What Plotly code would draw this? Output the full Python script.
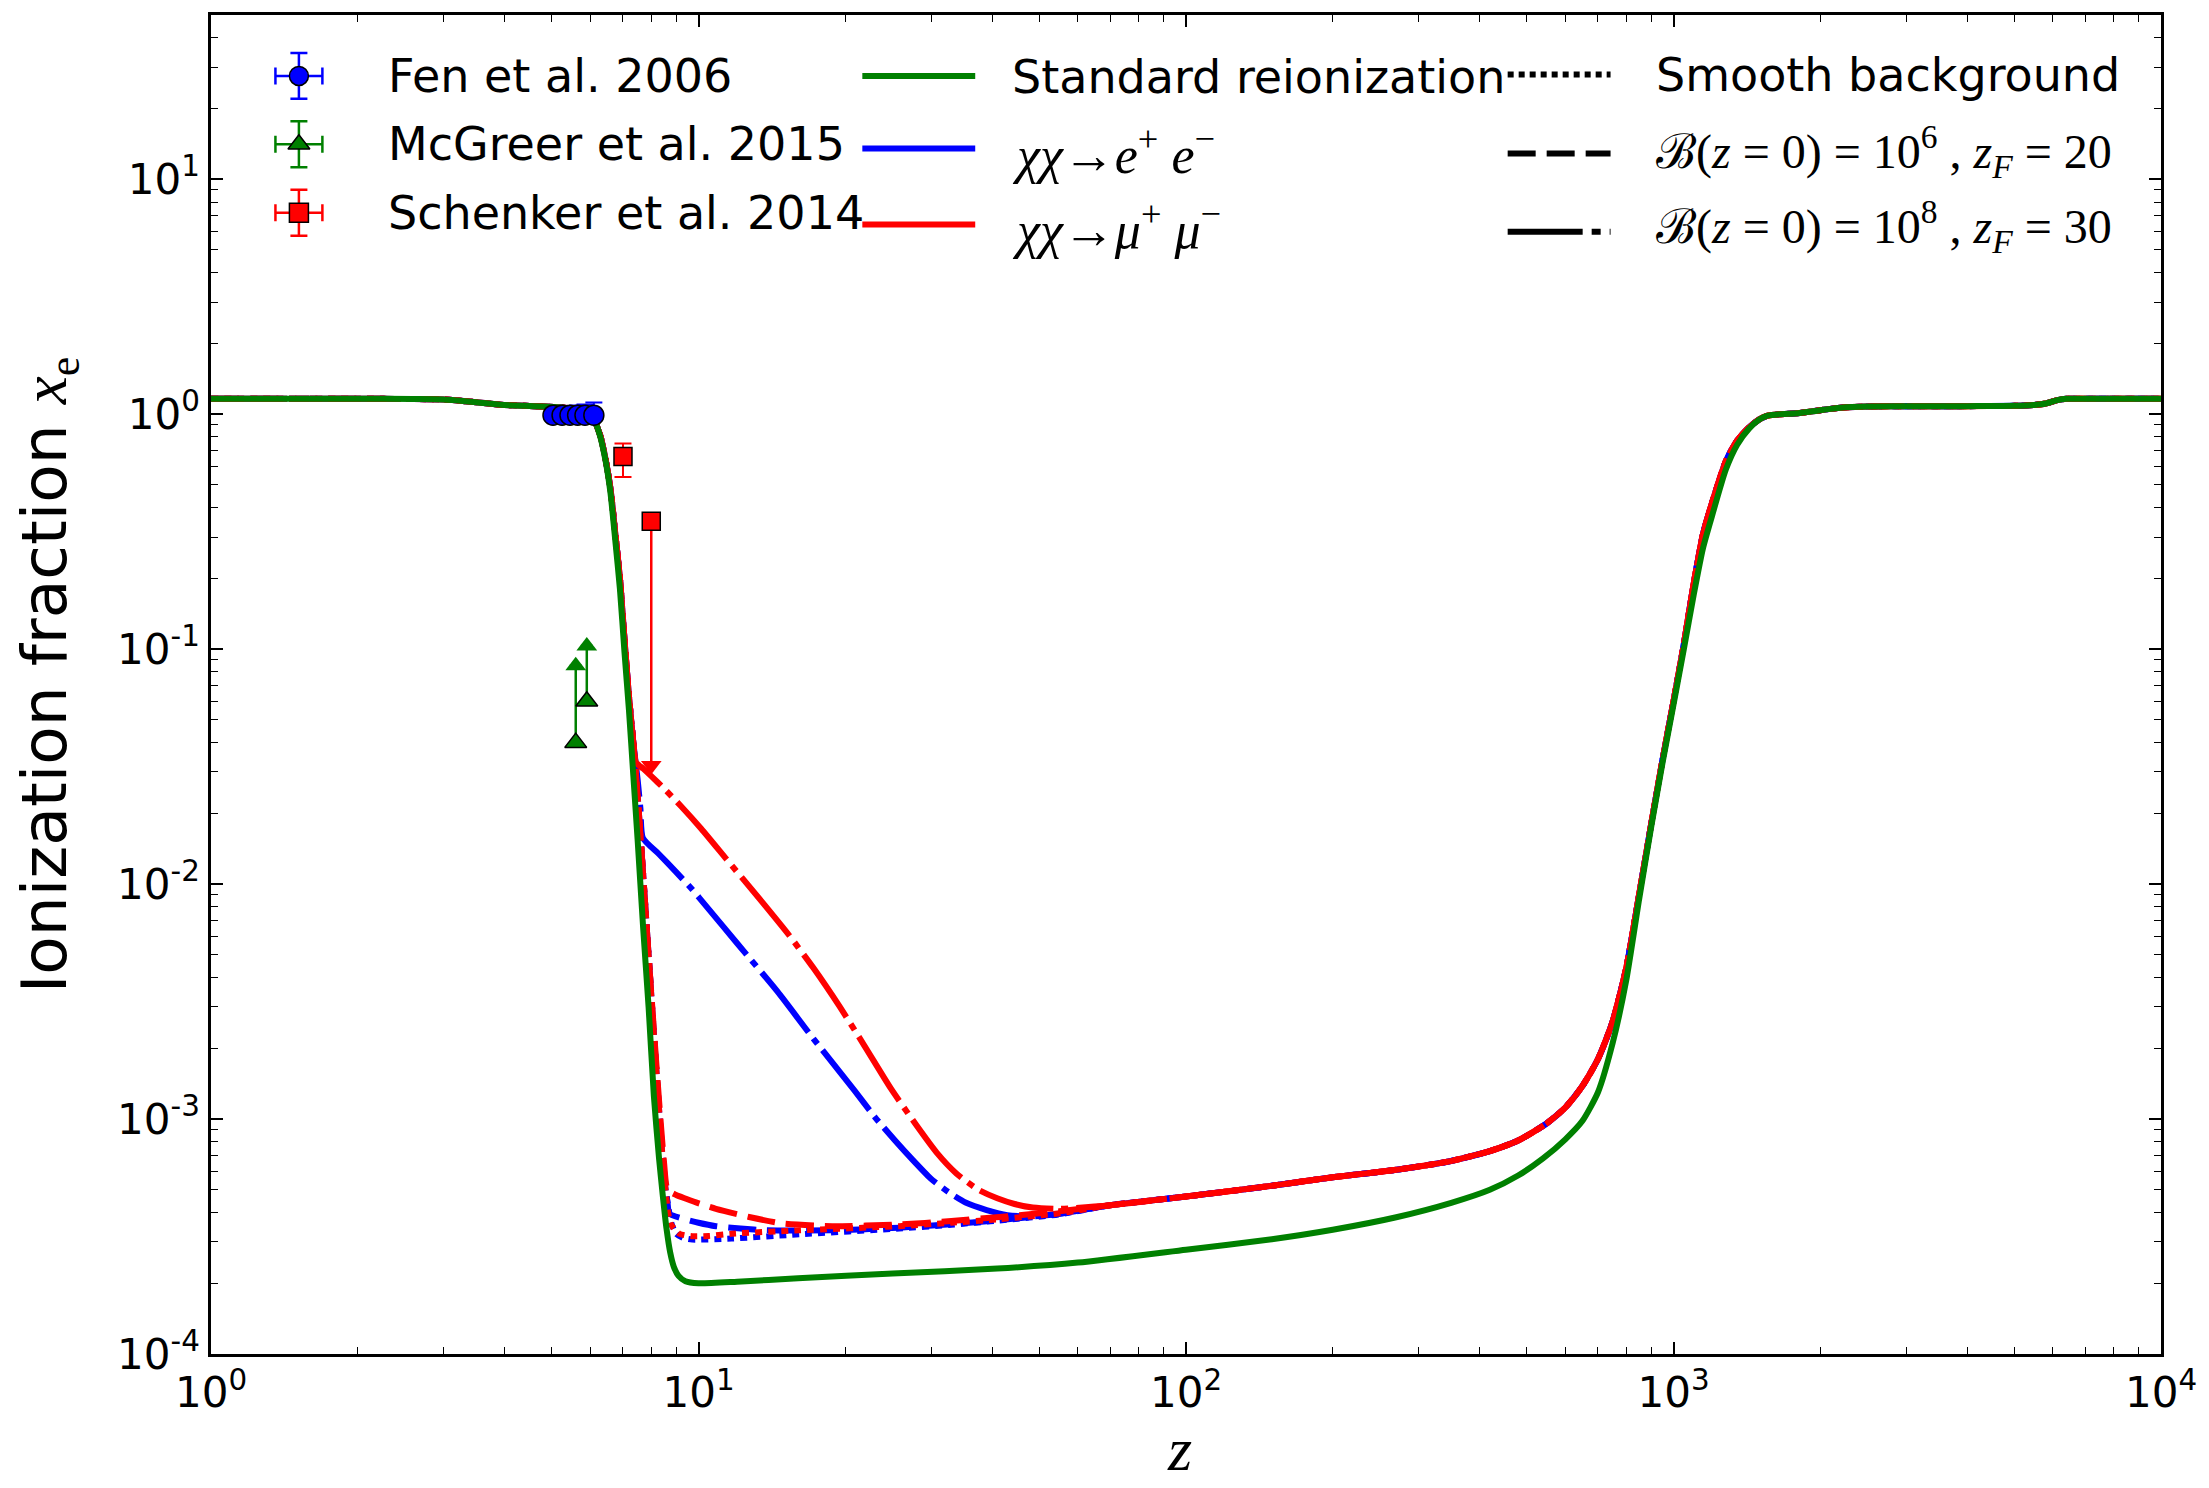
import math
import plotly.graph_objects as go

# ---------------- standard reionization history ----------------
z_std = [1.0, 2.0, 2.6, 3.0, 3.5, 3.93, 4.4, 4.81, 5.3, 5.7,
         5.95, 6.1, 6.2, 6.3, 6.45, 6.6, 6.75, 6.9, 7.05, 7.2,
         7.35, 7.5, 7.7, 7.9, 8.1, 8.3, 8.45, 8.6, 8.75, 8.9,
         9.1, 9.4, 10.0, 12.0, 16.0, 25.0, 41.0, 60.0, 100.0, 150.0,
         200.0, 270.0, 350.0, 420.0, 480.0, 540.0, 600.0, 650.0, 700.0, 750.0,
         800.0, 850.0, 900.0, 950.0, 1000.0, 1050.0, 1100.0, 1150.0, 1200.0, 1280.0,
         1350.0, 1430.0, 1500.0, 1560.0, 1650.0, 1800.0, 2000.0, 2200.0, 2500.0, 3000.0,
         4000.0, 5000.0, 5500.0, 5800.0, 6100.0, 6400.0, 7000.0, 10000.0]
xe_std = [1.163, 1.163, 1.16, 1.155, 1.125, 1.097, 1.085, 1.078, 1.065, 1.052,
          1.03, 0.96, 0.88, 0.79, 0.63, 0.46, 0.29, 0.18, 0.097, 0.055,
          0.029, 0.0155, 6.5e-3, 3.0e-3, 1.25e-3, 6.8e-4, 4.7e-4, 3.4e-4, 2.7e-4, 2.35e-4,
          2.15e-4, 2.04e-4, 2.0e-4, 2.03e-4, 2.1e-4, 2.2e-4, 2.31e-4, 2.45e-4, 2.78e-4, 3.08e-4,
          3.38e-4, 3.82e-4, 4.4e-4, 5.0e-4, 5.75e-4, 6.8e-4, 8.2e-4, 9.8e-4, 1.3e-3, 2.1e-3,
          3.9e-3, 8.6e-3, 0.0175, 0.033, 0.058, 0.10, 0.17, 0.27, 0.37, 0.58,
          0.74, 0.87, 0.95, 0.985, 1.0, 1.01, 1.04, 1.065, 1.078, 1.08,
          1.082, 1.085, 1.095, 1.11, 1.145, 1.163, 1.163, 1.163]

# ---------------- dark-matter annihilation histories ----------------
# common low-z reionization drop
z_dm_drop = [1.0, 2.0, 2.6, 3.0, 3.5, 3.93, 4.4, 4.81, 5.3, 5.7,
             5.95, 6.1, 6.2, 6.3, 6.45, 6.6, 6.75, 6.9, 7.05, 7.2, 7.35]
xe_dm_drop = [1.163, 1.163, 1.16, 1.155, 1.125, 1.097, 1.085, 1.078, 1.065, 1.052,
              1.03, 0.96, 0.88, 0.80, 0.64, 0.48, 0.31, 0.20, 0.11, 0.063, 0.040]

# common high-z part (all annihilation models converge here)
z_dm_high = [70, 100, 150, 200, 273, 346, 420, 480, 550, 600,
             650, 700, 750, 800, 850, 900, 950, 1000, 1050, 1100,
             1150, 1200, 1280, 1350, 1430, 1500, 1560, 1650, 1800, 2000,
             2200, 2500, 3000, 4000, 5000, 5500, 5800, 6100, 6400, 7000, 10000]
xe_dm_high = [4.3e-4, 4.68e-4, 5.2e-4, 5.65e-4, 6.1e-4, 6.6e-4, 7.3e-4, 8.1e-4, 9.6e-4, 1.12e-3,
              1.38e-3, 1.8e-3, 2.6e-3, 4.4e-3, 9.0e-3, 0.018, 0.034, 0.06, 0.105, 0.19,
              0.31, 0.42, 0.63, 0.77, 0.88, 0.95, 0.985, 1.0, 1.01, 1.04,
              1.065, 1.078, 1.08, 1.082, 1.085, 1.095, 1.11, 1.145, 1.163, 1.163, 1.163]

# chi chi -> e+ e-
z_ee_smooth = [7.5, 7.7, 7.9, 8.1, 8.3, 8.5, 8.8, 9.0, 9.3, 9.71, 11.7, 16.1, 25.8, 33, 41.4, 55]
xe_ee_smooth = [0.024, 0.011, 5.0e-3, 2.3e-3, 1.1e-3, 5.6e-4, 3.6e-4, 3.25e-4, 3.12e-4, 3.07e-4,
                3.1e-4, 3.23e-4, 3.42e-4, 3.55e-4, 3.7e-4, 3.93e-4]
z_ee_b6 = [7.5, 7.7, 7.9, 8.1, 8.3, 8.5, 8.65, 8.71, 9.28, 10.0, 10.86, 12.2, 13.75, 18.8, 25.8, 33, 41.4, 55]
xe_ee_b6 = [0.024, 0.011, 5.0e-3, 2.3e-3, 1.1e-3, 6.0e-4, 4.3e-4, 3.96e-4, 3.77e-4, 3.62e-4,
            3.5e-4, 3.42e-4, 3.36e-4, 3.36e-4, 3.45e-4, 3.57e-4, 3.71e-4, 3.95e-4]
z_ee_b8 = [7.5, 7.6, 7.69, 8.3, 8.98, 9.7, 10.4, 12.0, 14.5, 17.2, 20.9, 23.0, 25.3, 27.5,
           29.9, 32.5, 35.4, 39.0, 43.0, 48.0, 55.0]
xe_ee_b8 = [0.028, 0.021, 0.0157, 0.0134, 0.0113, 9.5e-3, 8.0e-3, 5.6e-3, 3.5e-3, 2.2e-3,
            1.32e-3, 1.02e-3, 8.1e-4, 6.7e-4, 5.6e-4, 4.9e-4, 4.4e-4, 4.1e-4, 3.9e-4, 3.85e-4, 3.95e-4]

# chi chi -> mu+ mu-
z_mm_smooth = [7.5, 7.7, 7.9, 8.1, 8.3, 8.5, 8.76, 9.14, 9.71, 10.5, 11.7, 16.1, 25.8, 33, 41.4, 55]
xe_mm_smooth = [0.024, 0.011, 5.0e-3, 2.3e-3, 1.1e-3, 5.8e-4, 3.59e-4, 3.25e-4, 3.17e-4, 3.18e-4,
                3.25e-4, 3.36e-4, 3.5e-4, 3.62e-4, 3.75e-4, 3.97e-4]
z_mm_b6 = [7.5, 7.7, 7.9, 8.1, 8.3, 8.5, 8.64, 9.0, 9.43, 10.1, 10.86, 12.7, 14.9, 18.8, 25.8, 33, 41.4, 55]
xe_mm_b6 = [0.024, 0.011, 5.0e-3, 2.4e-3, 1.2e-3, 6.5e-4, 5.0e-4, 4.75e-4, 4.58e-4, 4.35e-4,
            4.15e-4, 3.83e-4, 3.59e-4, 3.5e-4, 3.56e-4, 3.68e-4, 3.83e-4, 4.05e-4]
z_mm_b8 = [7.44, 7.7, 8.0, 8.5, 9.2, 10.13, 11.4, 13.5, 15.3, 17.2, 19.5, 21.9, 24.8, 27.9,
           30.8, 33.8, 37.5, 41.0, 44.5, 48.5, 55.0]
xe_mm_b8 = [0.033, 0.031, 0.0288, 0.0255, 0.0215, 0.0172, 0.0128, 8.4e-3, 6.1e-3, 4.4e-3,
            3.0e-3, 2.05e-3, 1.35e-3, 9.5e-4, 7.2e-4, 5.87e-4, 5.0e-4, 4.6e-4, 4.35e-4, 4.2e-4, 4.15e-4]

# ---------------- observational constraints ----------------
fan_z = [5.03, 5.25, 5.45, 5.65, 5.85, 6.10]
fan_xe = [0.99, 0.99, 0.99, 0.99, 0.99, 0.99]
fan_err_up = [0.03, 0.04, 0.05, 0.10, 0.11, 0.13]
fan_err_dn = [0.02, 0.02, 0.02, 0.03, 0.03, 0.03]
fan_zerr = [0.1, 0.1, 0.1, 0.1, 0.1, 0.1]

mcgreer_z = [5.6, 5.9]
mcgreer_xe = [0.04, 0.06]          # lower limits
mcgreer_err = [0.045, 0.043]

schenker_z = [7.0]
schenker_xe = [0.66]
schenker_err_up = [0.09]
schenker_err_dn = [0.12]
schenker_lim_z = [8.0]
schenker_lim_xe = [0.35]            # upper limit
schenker_lim_err = [0.318]

x_tickvals = [1, 10, 100, 1000, 10000]
x_ticktext = ["10<sup>0</sup>", "10<sup>1</sup>", "10<sup>2</sup>", "10<sup>3</sup>", "10<sup>4</sup>"]
y_tickvals = [1e-4, 1e-3, 1e-2, 1e-1, 1, 10]
y_ticktext = ["10<sup>-4</sup>", "10<sup>-3</sup>", "10<sup>-2</sup>", "10<sup>-1</sup>",
              "10<sup>0</sup>", "10<sup>1</sup>"]

BLUE, GREEN, RED = "#0000ff", "#008000", "#ff0000"
DOT = "7px,6px"
DASH = "28px,11px"
DASHDOT = "76px,8px,7px,8px"
LW = 6

fig = go.Figure()


def curve(z, xe, color, dash):
    fig.add_trace(go.Scatter(x=z, y=xe, mode="lines",
                             line=dict(color=color, width=LW, dash=dash,
                                       shape="spline", smoothing=0.6),
                             hoverinfo="skip"))


for col, tails in [(BLUE, [(z_ee_smooth, xe_ee_smooth, DOT), (z_ee_b6, xe_ee_b6, DASH),
                           (z_ee_b8, xe_ee_b8, DASHDOT)]),
                   (RED, [(z_mm_smooth, xe_mm_smooth, DOT), (z_mm_b6, xe_mm_b6, DASH),
                          (z_mm_b8, xe_mm_b8, DASHDOT)])]:
    for zt, xt, dsh in tails:
        curve(z_dm_drop + zt + z_dm_high, xe_dm_drop + xt + xe_dm_high, col, dsh)

curve(z_std, xe_std, GREEN, "solid")

# Fan et al. quasar points
fig.add_trace(go.Scatter(
    x=fan_z, y=fan_xe, mode="markers",
    marker=dict(symbol="circle", size=20, color=BLUE, line=dict(color="black", width=1.5)),
    error_y=dict(type="data", symmetric=False, array=fan_err_up, arrayminus=fan_err_dn,
                 color=BLUE, thickness=2, width=8.5),
    error_x=dict(type="data", array=fan_zerr, color=BLUE, thickness=2, width=8.5)))

# McGreer lower limits: shaft + arrow head
fig.add_trace(go.Scatter(
    x=mcgreer_z, y=mcgreer_xe, mode="markers",
    marker=dict(symbol="triangle-up", size=19, color=GREEN, line=dict(color="black", width=1.5)),
    error_y=dict(type="data", symmetric=False, array=mcgreer_err, arrayminus=[0, 0],
                 color=GREEN, thickness=2.5, width=6)))
fig.add_trace(go.Scatter(
    x=mcgreer_z, y=[v + e for v, e in zip(mcgreer_xe, mcgreer_err)], mode="markers",
    marker=dict(symbol="triangle-up", size=18, color=GREEN, line=dict(width=0))))

# Schenker measurement and upper limit
fig.add_trace(go.Scatter(
    x=schenker_z, y=schenker_xe, mode="markers",
    marker=dict(symbol="square", size=18, color=RED, line=dict(color="black", width=1.5)),
    error_y=dict(type="data", symmetric=False, array=schenker_err_up, arrayminus=schenker_err_dn,
                 color=RED, thickness=2, width=8.5)))
fig.add_trace(go.Scatter(
    x=schenker_lim_z, y=schenker_lim_xe, mode="markers",
    marker=dict(symbol="square", size=18, color=RED, line=dict(color="black", width=1.5)),
    error_y=dict(type="data", symmetric=False, array=[0], arrayminus=schenker_lim_err,
                 color=RED, thickness=2.5, width=0)))
fig.add_trace(go.Scatter(
    x=schenker_lim_z, y=[v - e for v, e in zip(schenker_lim_xe, schenker_lim_err)], mode="markers",
    marker=dict(symbol="triangle-down", size=18, color=RED, line=dict(width=0))))

# ---------------- legend (drawn on a pixel-space overlay) ----------------
def key_marker(y, symbol, color):
    fig.add_trace(go.Scatter(
        x=[299], y=[y], xaxis="x2", yaxis="y2", mode="markers", cliponaxis=False,
        marker=dict(symbol=symbol, size=19, color=color, line=dict(color="black", width=1.5)),
        error_x=dict(type="data", array=[23.5], color=color, thickness=2.5, width=8.5),
        error_y=dict(type="data", array=[23], color=color, thickness=2.5, width=8.5)))


def key_line(x0, x1, y, color, dash):
    fig.add_trace(go.Scatter(
        x=[x0, x1], y=[y, y], xaxis="x2", yaxis="y2", mode="lines", cliponaxis=False,
        line=dict(color=color, width=6, dash=dash)))


key_marker(74, "circle", BLUE)
key_marker(142.5, "triangle-up", GREEN)
key_marker(211, "square", RED)
key_line(863, 976, 74, GREEN, "solid")
key_line(863, 976, 146.7, BLUE, "solid")
key_line(863, 976, 222.7, RED, "solid")
key_line(1509, 1612, 72.7, "black", "6px,5px")
key_line(1509, 1612, 151.7, "black", DASH)
key_line(1509, 1612, 230, "black", "75px,9px,9px,9px")

SANS = "DejaVu Sans"
SERIF = "Liberation Serif"
ann = []


def key_text(x, y, text, family, size=46):
    ann.append(dict(x=x, y=y, xref="x2", yref="y2", text=text, showarrow=False,
                    xanchor="left", yanchor="middle",
                    font=dict(family=family, size=size, color="black")))


key_text(386, 74, "Fen et al. 2006", SANS)
key_text(386, 142.5, "McGreer et al. 2015", SANS)
key_text(386, 211, "Schenker et al. 2014", SANS)
key_text(1011, 75, "Standard reionization", SANS)
key_text(1011, 150, "<i>χχ</i>→<i>e</i><sup>+</sup> <i>e</i><sup>−</sup>", SERIF, 52)
key_text(1011, 225, "<i>χχ</i>→<i>μ</i><sup>+</sup> <i>μ</i><sup>−</sup>", SERIF, 52)
key_text(1655, 73, "Smooth background", SANS)
key_text(1655, 150, "ℬ(<i>z</i> = 0) = 10<sup>6</sup> , <i>z</i><sub><i>F</i></sub> = 20", SERIF, 48)
key_text(1655, 225, "ℬ(<i>z</i> = 0) = 10<sup>8</sup> , <i>z</i><sub><i>F</i></sub> = 30", SERIF, 48)

# axis titles
ann.append(dict(x=-0.0835, y=0.507, xref="paper", yref="paper", textangle=-90, showarrow=False,
                xanchor="center", yanchor="middle",
                text="Ionization fraction <span style='font-family:Liberation Serif'><i>x</i><sub>e</sub></span>",
                font=dict(family=SANS, size=63, color="black")))
ann.append(dict(x=0.4966, y=-0.0975, xref="paper", yref="paper", showarrow=False,
                xanchor="center", yanchor="bottom", text="<i>z</i>",
                font=dict(family=SERIF, size=62, color="black")))

x_minor = [k * 10 ** n for n in range(0, 4) for k in range(2, 10)]
y_minor = [k * 10.0 ** n for n in range(-4, 2) for k in range(2, 10)]

axis_common = dict(type="log", ticks="inside", ticklen=12, tickwidth=1.5, tickcolor="black",
                   mirror="allticks", showline=True, linewidth=2.5, linecolor="black",
                   showgrid=False, zeroline=False,
                   tickfont=dict(family=SANS, size=42, color="black"))

fig.update_layout(
    width=2209, height=1488,
    margin=dict(l=211, r=46, t=13, b=134),
    paper_bgcolor="white", plot_bgcolor="white",
    showlegend=False,
    xaxis=dict(range=[0, 4], tickmode="array", tickvals=x_tickvals, ticktext=x_ticktext,
               minor=dict(tickmode="array", tickvals=x_minor, ticks="inside", ticklen=7,
                          tickwidth=1.2, tickcolor="black", showgrid=False),
               **axis_common),
    yaxis=dict(range=[-4, math.log10(50)], tickmode="array", tickvals=y_tickvals, ticktext=y_ticktext,
               minor=dict(tickmode="array", tickvals=y_minor, ticks="inside", ticklen=7,
                          tickwidth=1.2, tickcolor="black", showgrid=False),
               **axis_common),
    xaxis2=dict(overlaying="x", anchor="y2", range=[211, 2163], visible=False, fixedrange=True),
    yaxis2=dict(overlaying="y", anchor="x2", range=[1354, 13], visible=False, fixedrange=True),
    annotations=ann,
)

fig.write_html("out.html")
